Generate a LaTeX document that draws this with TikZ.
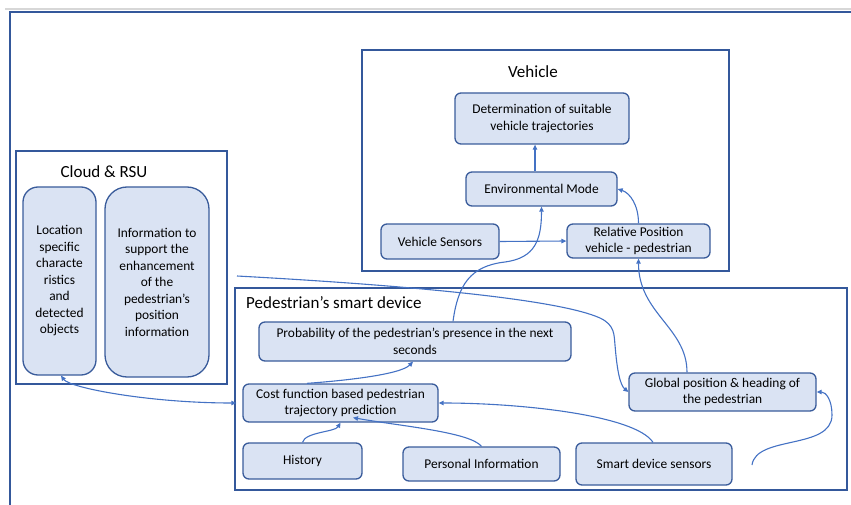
\documentclass[tikz,border=0pt]{standalone}
\usepackage{fontspec}
\setmainfont{Carlito}
\usetikzlibrary{arrows.meta,calc}
\definecolor{boxfill}{RGB}{218,227,243}
\definecolor{boxdraw}{RGB}{58,92,155}
\definecolor{conncol}{RGB}{68,114,196}
\definecolor{framecol}{RGB}{52,88,155}
\definecolor{topgray}{RGB}{215,215,215}
\begin{document}
\begin{tikzpicture}[x=1pt,y=-1pt,
 box/.style={draw=boxdraw, fill=boxfill, line width=1.3pt, rounded corners=6pt, align=center, inner sep=2pt, font=\fontsize{13.4}{16.5}\selectfont, text=black},
 container/.style={draw=framecol, line width=1.2pt, inner sep=0pt},
 boxtitle/.style={font=\fontsize{17}{20}\selectfont, text=black, inner sep=0pt},
 conn/.style={draw=conncol, line width=1.1pt, -{Triangle[length=5pt,width=4.5pt]}},
 conn2/.style={draw=conncol, line width=1.1pt, {Triangle[length=5pt,width=4.5pt]}-{Triangle[length=5pt,width=4.5pt]}},
]
\useasboundingbox (0,0) rectangle (851,505);
% page frame
\draw[topgray, line width=2pt] (5,9) -- (851,9);
\draw[framecol, line width=1.2pt] (10,505) -- (10,12) -- (851,12);

% containers
\node[container, minimum width=367pt, minimum height=221pt] (vehbox) at (545.5,160.5) {};
\node[container, minimum width=211pt, minimum height=233pt] (cloudbox) at (121.5,267.5) {};
\node[container, minimum width=612pt, minimum height=202pt] (pedbox) at (541,389) {};

\node[boxtitle] (vehtitle) at (533,72) {Vehicle};
\node[boxtitle] (cloudtitle) at (104,172) {Cloud \& RSU};
\node[boxtitle, anchor=west] (pedtitle) at (246,303) {Pedestrian’s smart device};

% vehicle nodes
\node[box, minimum width=174pt, minimum height=51pt] (det) at (542,118.5) {Determination of suitable\\vehicle trajectories};
\node[box, minimum width=151pt, minimum height=34pt] (env) at (541.5,189) {Environmental Mode};
\node[box, minimum width=118pt, minimum height=35pt] (vsens) at (440,241.5) {Vehicle Sensors};
\node[box, minimum width=143pt, minimum height=34pt] (rel) at (638.5,241) {Relative Position\\vehicle - pedestrian};

% cloud nodes
\node[box, rounded corners=15pt, minimum width=73pt, minimum height=188pt] (loc) at (59.5,281) {Location\\specific\\characte\\ristics\\and\\detected\\objects};
\node[box, rounded corners=22pt, minimum width=104pt, minimum height=190pt] (info) at (157,282) {Information to\\support the\\enhancement\\of the\\pedestrian’s\\position\\information};

% pedestrian nodes
\node[box, minimum width=312pt, minimum height=39pt] (prob) at (415,341.5) {Probability of the pedestrian’s presence in the next\\seconds};
\node[box, minimum width=195pt, minimum height=38pt] (cost) at (340.5,403) {Cost function based pedestrian\\trajectory prediction};
\node[box, minimum width=119pt, minimum height=36pt] (hist) at (302.5,461) {History};
\node[box, minimum width=157pt, minimum height=34pt] (pers) at (481.5,464) {Personal Information};
\node[box, minimum width=156pt, minimum height=42pt] (smart) at (654,464) {Smart device sensors};
\node[box, minimum width=187pt, minimum height=38pt] (glob) at (722.5,392) {Global position \& heading of\\the pedestrian};

\coordinate (cloudout) at (237,276);
\coordinate (sensout) at (752,465);

% connectors
\draw[conn] ([xshift=-6.5pt]env.north) -- ([xshift=-6.5pt]env.north |- det.south);
\draw[conn] (vsens.east) -- (rel.west);
\draw[conn] (rel.north) .. controls (638.5,205) and (630,193) .. (env.east);
\draw[conn] ([xshift=-35.5pt]glob.north) .. controls +(0,-45) and +(0,55) .. (rel.south);
\draw[conn] (sensout) .. controls (756,435) and (832,450) .. (832,415) .. controls (832,400) and (826,392) .. (glob.east);
\draw[conn] ([xshift=-1pt]smart.north) .. controls (635,415) and (520,403) .. (cost.east);
\draw[conn] (pers.north) .. controls (470,432) and (400,426) .. ([xshift=12.5pt,yshift=5pt]cost.south);
\draw[conn] (hist.north) .. controls (305,432) and (335,432) .. (cost.south);
\draw[conn] ([xshift=-33.5pt]cost.north) .. controls (340,381) and (400,375) .. ([xshift=-2pt]prob.south);
\draw[conn] ([xshift=38pt]prob.north) .. controls (458,285) and (470,266) .. (505,262) .. controls (535,258) and (541.5,240) .. (env.south);
\draw[conn2] ([xshift=1.5pt]loc.south) .. controls (70,388) and (150,403) .. ([xshift=-6pt]cost.west);
\draw[conn] (cloudout) .. controls (420,286) and (560,300) .. (600,318) .. controls (615,325) and (614,335) .. (615,345) .. controls (617,370) and (620,385) .. (glob.west);
\end{tikzpicture}
\end{document}
